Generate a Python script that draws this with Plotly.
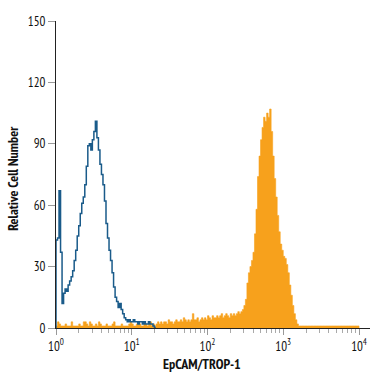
import numpy as np
import plotly.graph_objects as go

# ---------------- data ----------------
BIN_WIDTH_DECADES = 0.02  # width of each histogram channel in log10 units

# isotype control (blue outline), channels starting at 10^0
blue_counts = [43, 44, 67, 37, 12, 17, 19, 18, 21, 23,
               25, 28, 33, 38, 45, 50, 56, 61, 64, 70,
               79, 89, 90, 87, 92, 96, 101, 93, 87, 80,
               75, 70, 62, 51, 44, 38, 33, 27, 20, 15,
               13, 10, 12, 9, 7, 5, 4, 3, 4, 3,
               3, 4, 3, 3, 2, 3, 3, 2, 3, 2,
               2, 3, 2, 2, 1, 0]

# EpCAM/TROP-1 stained (orange filled), channels 10^0 .. 10^4
orange_low = [1, 3, 2, 1, 1, 1, 2, 1, 1, 1, 3, 1, 1, 1, 1, 2, 1, 1, 3, 3,
              2, 1, 3, 2, 1, 1, 2, 1, 3, 2, 1, 1, 1, 2, 1, 1, 1, 2, 3, 1,
              1, 1, 1, 2, 1, 1, 1, 1, 2, 3, 2, 1, 1, 2, 3, 2, 1, 1, 2, 2,
              1, 2, 3, 1, 2, 1]
orange_rise = [2, 3, 2, 3, 2, 3, 3, 2, 4, 3, 3, 2, 3, 4, 3, 3, 4, 3, 5, 4,
               3, 4, 3, 4, 7, 4, 4, 5, 3, 4, 5, 4, 5, 4, 6]
orange_plateau = [5, 4, 6, 5, 5, 6, 5, 6, 7, 5, 6, 7, 6, 5, 7, 6, 7, 6, 7, 8,
                  7, 8]
orange_peak = [9, 11, 14, 22, 27, 30, 33, 37, 46, 58, 74, 84, 92, 98, 103,
               101, 105, 103, 107, 96, 84, 73, 64, 55, 47, 41, 38, 35, 34, 31,
               27, 21, 16, 11, 7, 4, 2]
orange_tail = [1, 1, 1, 1, 1, 1, 1, 1, 1, 1, 1, 1, 1, 1, 1, 1, 1, 1, 1, 1,
               1, 1, 1, 1, 1, 1, 1, 1, 1, 1, 1, 1, 1, 1, 1, 1, 1, 1, 1, 1]
orange_counts = orange_low + orange_rise + orange_plateau + orange_peak + orange_tail

y_ticks = [0, 30, 60, 90, 120, 150]
x_major = [1, 10, 100, 1000, 10000]
x_major_text = ["10<sup>0</sup>", "10<sup>1</sup>", "10<sup>2</sup>",
                "10<sup>3</sup>", "10<sup>4</sup>"]
x_minor = [m * d for d in (1, 10, 100, 1000) for m in range(2, 10)]

BLUE = "#1A5B8A"
ORANGE = "#F7A11C"
FONT = "PT Sans Narrow, Roboto Condensed, Fira Sans Condensed, DejaVu Sans Condensed, sans-serif"

# --------------- build step traces ---------------
def step_xy(counts, start_zero=False):
    edges = 10 ** (np.arange(len(counts) + 1) * BIN_WIDTH_DECADES)
    xs = list(edges[:-1])
    ys = list(counts)
    xs.append(edges[-1])
    ys.append(0)
    if start_zero:
        xs = [edges[0]] + xs
        ys = [0] + ys
    return xs, ys

ox, oy = step_xy(orange_counts)
bx, by = step_xy(blue_counts, start_zero=True)

fig = go.Figure()
fig.add_trace(go.Scatter(x=ox, y=oy, mode="lines", line=dict(shape="hv", width=0.6, color=ORANGE),
                         fill="tozeroy", fillcolor=ORANGE, hoverinfo="skip"))
fig.add_trace(go.Scatter(x=bx, y=by, mode="lines", line=dict(shape="hv", width=1.5, color=BLUE),
                         hoverinfo="skip"))

fig.update_layout(
    width=375, height=375,
    margin=dict(l=56, r=5, t=21, b=47),
    paper_bgcolor="white", plot_bgcolor="white",
    showlegend=False,
    font=dict(family=FONT, size=13, color="#111"),
    xaxis=dict(type="log", range=[0, 4.145], showgrid=False, zeroline=False,
               showline=True, linecolor="#222", linewidth=1,
               tickmode="array", tickvals=x_major, ticktext=x_major_text,
               ticks="outside", ticklen=6, tickcolor="#999", tickwidth=1,
               tickfont=dict(family=FONT, size=13, color="#111"),
               minor=dict(tickmode="array", tickvals=x_minor, ticks="outside",
                          ticklen=4, tickcolor="#aaa", tickwidth=1, showgrid=False)),
    yaxis=dict(range=[0, 150], showgrid=False, zeroline=False,
               showline=True, linecolor="#222", linewidth=1,
               tickmode="array", tickvals=y_ticks,
               ticks="outside", ticklen=7, tickcolor="#999", tickwidth=1,
               tickfont=dict(family=FONT, size=13, color="#111")),
    annotations=[
        dict(text="<b>EpCAM/TROP-1</b>", xref="paper", yref="paper",
             x=0.465, y=-0.117, xanchor="center", yanchor="middle", showarrow=False,
             font=dict(family=FONT, size=14, color="#111")),
        dict(text="<b>Relative Cell Number</b>", xref="paper", yref="paper",
             x=-0.137, y=0.489, xanchor="center", yanchor="middle", showarrow=False,
             textangle=-90, font=dict(family=FONT, size=14, color="#111")),
    ],
)

fig.write_html("out.html")
